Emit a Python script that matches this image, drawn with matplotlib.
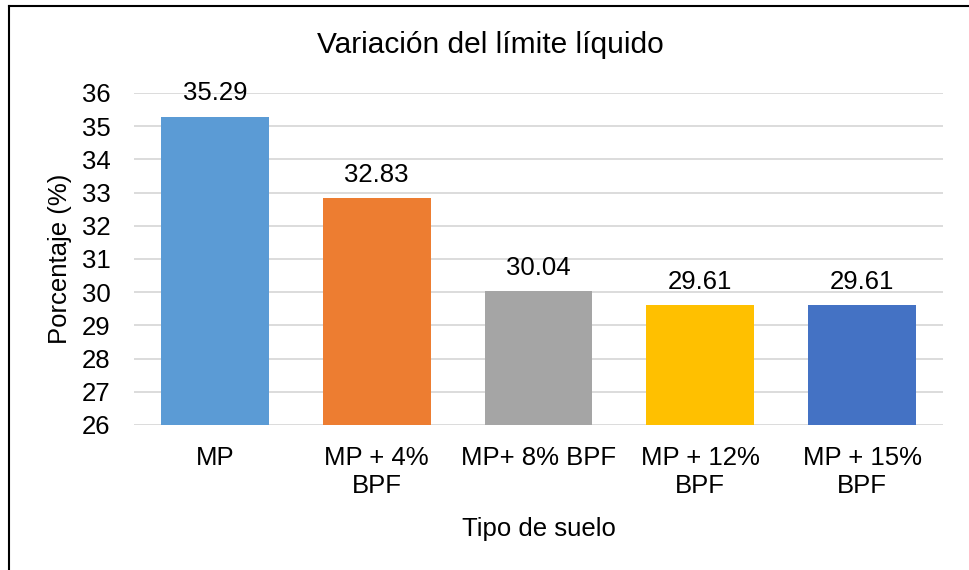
import matplotlib
matplotlib.use('Agg')
from matplotlib import pyplot as plt
from matplotlib.lines import Line2D

categories = ['MP', 'MP + 4%\nBPF', 'MP+ 8% BPF', 'MP + 12%\nBPF', 'MP + 15%\nBPF']
values = [35.29, 32.83, 30.04, 29.61, 29.61]
value_labels = ['35.29', '32.83', '30.04', '29.61', '29.61']
colors = ['#5B9BD5', '#ED7D31', '#A5A5A5', '#FFC000', '#4472C4']
yticks = list(range(26, 37))

plt.rcParams['font.family'] = ['Liberation Sans', 'DejaVu Sans']
fs = 18.5

fig = plt.figure(figsize=(9.69, 5.7), dpi=100)
ax = fig.add_axes([134 / 969, 1 - 425 / 570, (943 - 134) / 969, (425 - 93) / 570])

xs = range(len(categories))
bars = ax.bar(xs, [v - 26 for v in values], bottom=26, width=0.667, color=colors, zorder=3)
for x, v, lab in zip(xs, values, value_labels):
    ax.annotate(lab, (x, v), xytext=(0, 8), textcoords='offset points',
                ha='center', va='bottom', fontsize=fs)

ax.set_xlim(-0.5, len(categories) - 0.5)
ax.set_ylim(26, 36)
ax.set_yticks(yticks)
ax.set_xticks(list(xs))
ax.set_xticklabels(categories, fontsize=fs, linespacing=1.2)
ax.tick_params(axis='y', labelsize=fs, length=0, pad=17)
ax.tick_params(axis='x', length=0, pad=15)
ax.grid(axis='y', color='#D9D9D9', linewidth=1.3, zorder=0)
for s in ax.spines.values():
    s.set_visible(False)

fig.text(490 / 969, 1 - 45 / 570, 'Variación del límite líquido', fontsize=21.5,
         ha='center', va='center')
ax.set_ylabel('Porcentaje (%)', fontsize=fs, labelpad=7)
ax.set_xlabel('Tipo de suelo', fontsize=fs, labelpad=14)

# chart border (only top and left visible in the crop)
fig.add_artist(Line2D([9 / 969, 9 / 969], [0, 1 - 6 / 570], transform=fig.transFigure,
                      color='black', linewidth=1.5))
fig.add_artist(Line2D([9 / 969, 1], [1 - 6 / 570, 1 - 6 / 570], transform=fig.transFigure,
                      color='black', linewidth=1.5))

fig.savefig('out.png', dpi=100)
